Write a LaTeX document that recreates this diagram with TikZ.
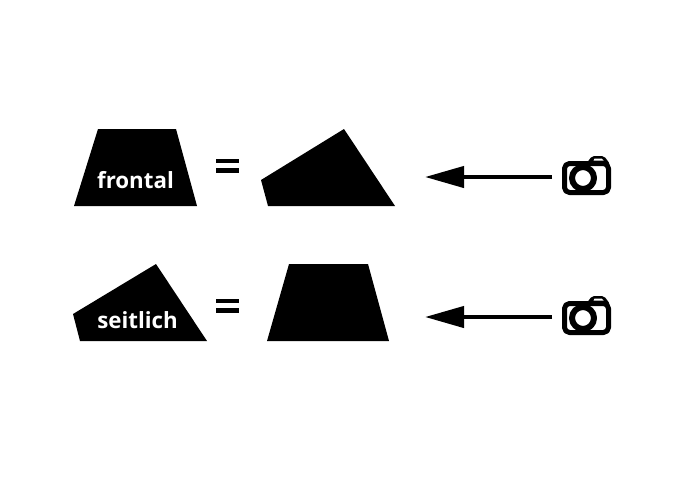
\documentclass[tikz,border=0pt]{standalone}
\usepackage{fontspec}
\setmainfont{Open Sans}
\usetikzlibrary{calc,arrows.meta,positioning}
\tikzset{
  body/.style={fill=black,draw=none},
  caption/.style={text=white,font=\bfseries\fontsize{22.3}{24}\selectfont,inner sep=0pt,anchor=base},
  view/.style={-{Triangle[length=39pt,width=21pt]},line width=4.2pt},
  camline/.style={draw=black,line width=5pt,line join=round},
  camera/.pic={
    \fill[rounded corners=2pt] (3,-14) -- (9,-22) -- (21,-22) -- (27,-14) -- cycle;
    \fill[white] (11.5,-19.5) -- (18.5,-19.5) -- (20.5,-17.5) -- (10.5,-17.5) -- cycle;
    \draw[camline,fill=white,rounded corners=5pt] (-18.5,-14.5) rectangle (25.5,14.5);
    \draw[camline,line width=6pt,fill=white] (0,0) circle (11);
  }
}
\begin{document}
\begin{tikzpicture}[x=1pt,y=-1pt]
\useasboundingbox (0,0) rectangle (680,480);
\coordinate (A1) at (552,177);
\coordinate (B1) at (425,177);
\coordinate (A2) at (552,317);
\coordinate (B2) at (425,317);
      \fill[body] (98,129) -- (176,129) -- (197,206) -- (74,206) -- cycle;
      \fill[body] (261,180) -- (344,129) -- (395,206) -- (268,206) -- cycle;
      \fill[body] (73,314) -- (156,264) -- (207,341) -- (80,341) -- cycle;
      \fill[body] (289,264) -- (368,264) -- (389,341) -- (267,341) -- cycle;

\node[caption] (frontal) at (135.5,188) {frontal};
\node[caption] (seitlich) at (137.5,328) {seitlich};

\foreach \y in {158.5,168,298.5,308}
{
    \fill (216,\y) rectangle (239,\y+4.7);
};

\draw[view] (A1) -- (B1);
\draw[view] (A2) -- (B2);
\pic at (583,178) {camera};
\pic at (583,318) {camera};
\end{tikzpicture}
\end{document}
